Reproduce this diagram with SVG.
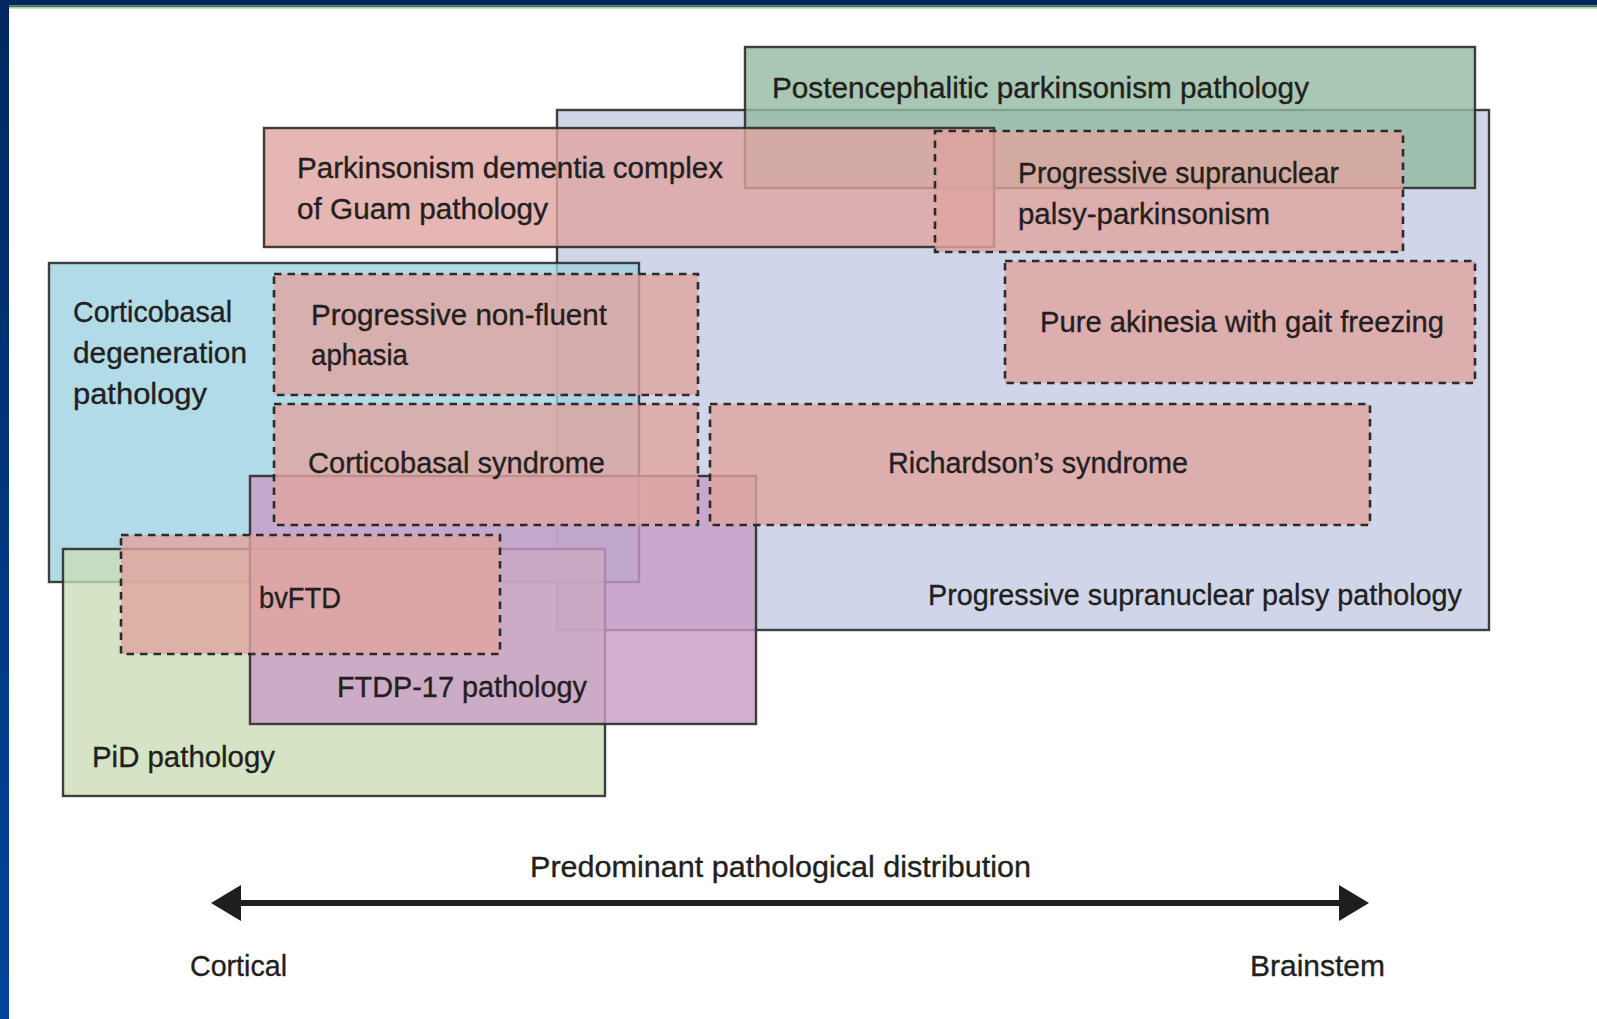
<svg xmlns="http://www.w3.org/2000/svg" width="1597" height="1019" viewBox="0 0 1597 1019">
<style>
.box{stroke:#2b2b2b;stroke-width:2.4;stroke-opacity:0.9;fill-opacity:0.8}
.dash{fill:#e0a49f;fill-opacity:0.8;stroke:#2b2b2b;stroke-width:2.6;stroke-dasharray:7.5 6}
.t{font-family:"Liberation Sans Narrow","Liberation Sans",Arial,sans-serif;font-size:30px;fill:#231f20;stroke:#231f20;stroke-width:0.35}
</style>
<defs>
<linearGradient id="lb" x1="0" y1="0" x2="0" y2="1">
<stop offset="0" stop-color="#00285f"/>
<stop offset="1" stop-color="#00449c"/>
</linearGradient>
<marker id="ah" markerUnits="userSpaceOnUse" viewBox="0 0 30 36" refX="0" refY="18" markerWidth="30" markerHeight="36" orient="auto-start-reverse">
<path d="M0,0 L30,18 L0,36 Z" fill="#1e1e1e"/>
</marker>
</defs>
<rect x="0" y="0" width="1597" height="1019" fill="#ffffff"/>
<g id="frame">
<rect x="0" y="0" width="1597" height="5.5" fill="#00285f"/>
<rect x="0" y="5.5" width="1597" height="2" fill="#3d7b40"/>
<rect x="0" y="7.5" width="1597" height="1.3" fill="#d2d2d2"/>
<rect x="0" y="0" width="9" height="1019" fill="url(#lb)"/>
</g>
<g id="psp-pathology">
<rect class="box" x="557" y="110" width="932" height="520" fill="#c4cce5"/>
<text class="t" x="928" y="605" textLength="534" lengthAdjust="spacingAndGlyphs">Progressive supranuclear palsy pathology</text>
</g>
<g id="postencephalitic">
<rect class="box" x="745" y="47" width="730" height="141" fill="#92baa1"/>
<text class="t" x="772" y="98" textLength="537" lengthAdjust="spacingAndGlyphs">Postencephalitic parkinsonism pathology</text>
</g>
<g id="guam">
<rect class="box" x="264" y="128" width="730" height="119" fill="#e0a4a1"/>
<text class="t" x="297" y="178" textLength="426" lengthAdjust="spacingAndGlyphs">Parkinsonism dementia complex</text>
<text class="t" x="297" y="219" textLength="251" lengthAdjust="spacingAndGlyphs">of Guam pathology</text>
</g>
<g id="cbd-pathology">
<rect class="box" x="49" y="263" width="590" height="319" fill="#9fd2e2"/>
<text class="t" x="73" y="322" textLength="159" lengthAdjust="spacingAndGlyphs">Corticobasal</text>
<text class="t" x="73" y="363" textLength="174" lengthAdjust="spacingAndGlyphs">degeneration</text>
<text class="t" x="73" y="404" textLength="134" lengthAdjust="spacingAndGlyphs">pathology</text>
</g>
<g id="pid-pathology">
<rect class="box" x="63" y="549" width="542" height="247" fill="#c9ddb5"/>
<text class="t" x="92" y="767" textLength="183" lengthAdjust="spacingAndGlyphs">PiD pathology</text>
</g>
<g id="ftdp17-pathology">
<rect class="box" x="250" y="476" width="506" height="248" fill="#c89cc5"/>
<text class="t" x="337" y="697" textLength="250" lengthAdjust="spacingAndGlyphs">FTDP-17 pathology</text>
</g>
<g id="psp-parkinsonism">
<rect class="dash" x="935" y="131" width="468" height="121"/>
<text class="t" x="1018" y="183" textLength="321" lengthAdjust="spacingAndGlyphs">Progressive supranuclear</text>
<text class="t" x="1018" y="224" textLength="252" lengthAdjust="spacingAndGlyphs">palsy-parkinsonism</text>
</g>
<g id="pure-akinesia">
<rect class="dash" x="1005" y="261" width="470" height="122"/>
<text class="t" x="1040" y="332" textLength="404" lengthAdjust="spacingAndGlyphs">Pure akinesia with gait freezing</text>
</g>
<g id="pnfa">
<rect class="dash" x="274" y="274" width="424" height="121"/>
<text class="t" x="311" y="325" textLength="296" lengthAdjust="spacingAndGlyphs">Progressive non-fluent</text>
<text class="t" x="311" y="365" textLength="97" lengthAdjust="spacingAndGlyphs">aphasia</text>
</g>
<g id="cbs">
<rect class="dash" x="274" y="404" width="424" height="121"/>
<text class="t" x="308" y="473" textLength="297" lengthAdjust="spacingAndGlyphs">Corticobasal syndrome</text>
</g>
<g id="richardson">
<rect class="dash" x="710" y="404" width="660" height="121"/>
<text class="t" x="888" y="473" textLength="300" lengthAdjust="spacingAndGlyphs">Richardson’s syndrome</text>
</g>
<g id="bvftd">
<rect class="dash" x="121" y="535" width="379" height="119"/>
<text class="t" x="259" y="608" textLength="82" lengthAdjust="spacingAndGlyphs">bvFTD</text>
</g>
<g id="connectors">
<line x1="241" y1="903" x2="1339" y2="903" stroke="#1e1e1e" stroke-width="6" marker-start="url(#ah)" marker-end="url(#ah)"/>
</g>
<g id="axis-labels">
<text class="t" x="530" y="877" textLength="501" lengthAdjust="spacingAndGlyphs">Predominant pathological distribution</text>
<text class="t" x="190" y="976" textLength="97" lengthAdjust="spacingAndGlyphs">Cortical</text>
<text class="t" x="1250" y="976" textLength="135" lengthAdjust="spacingAndGlyphs">Brainstem</text>
</g>
</svg>
